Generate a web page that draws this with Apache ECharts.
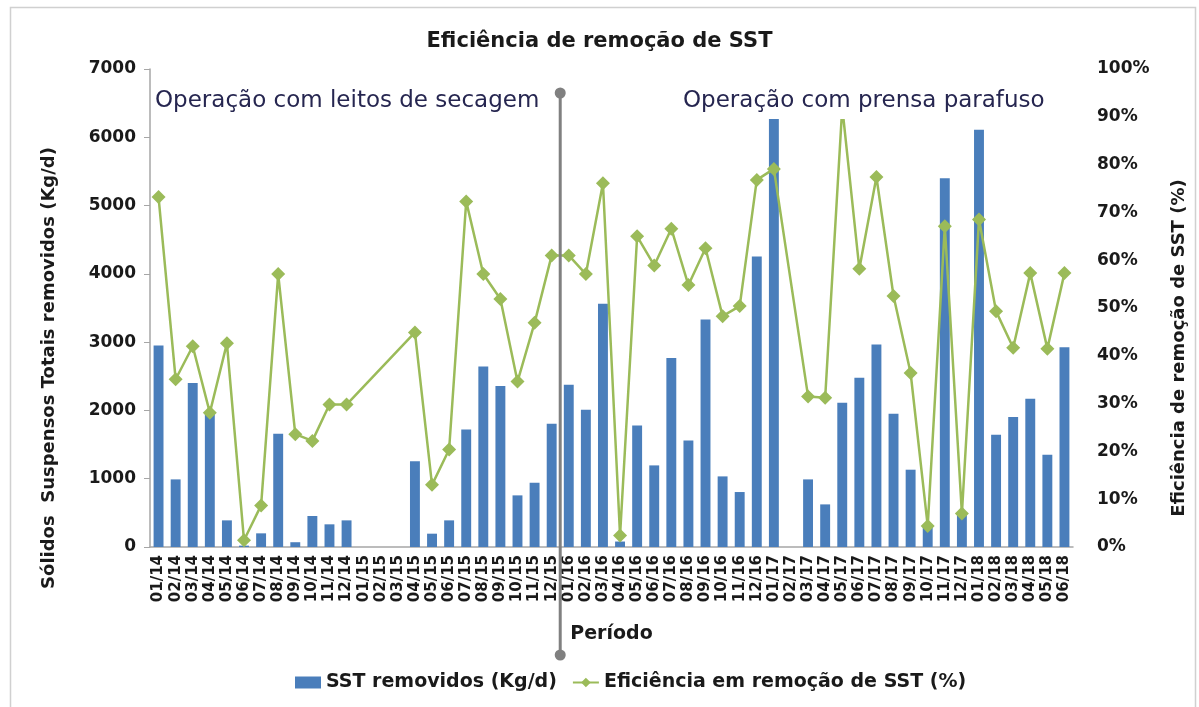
<!DOCTYPE html>
<html>
<head>
<meta charset="utf-8">
<script src="https://cdn.jsdelivr.net/npm/echarts@6/dist/echarts.min.js"></script>
<style>
html,body{margin:0;padding:0;background:#fff;}
#chart{width:1199px;height:707px;}
</style>
</head>
<body>
<div id="chart"></div>
<script>
const categories = [
  '01/14','02/14','03/14','04/14','05/14','06/14','07/14','08/14','09/14','10/14','11/14','12/14',
  '01/15','02/15','03/15','04/15','05/15','06/15','07/15','08/15','09/15','10/15','11/15','12/15',
  '01/16','02/16','03/16','04/16','05/16','06/16','07/16','08/16','09/16','10/16','11/16','12/16',
  '01/17','02/17','03/17','04/17','05/17','06/17','07/17','08/17','09/17','10/17','11/17','12/17',
  '01/18','02/18','03/18','04/18','05/18','06/18'
];
const sstRemovidos = [
  2950, 990, 2400, 1980, 390, 20, 200, 1660, 70, 454, 332, 390,
  null, null, null, 1254, 195, 390, 1722, 2644, 2356, 756, 941, 1805,
  2376, 2010, 3561, 80, 1780, 1195, 2766, 1561, 3332, 1034, 805, 4254,
  6400, null, 990, 624, 2112, 2478, 2966, 1951, 1132, 300, 5400, 500,
  6112, 1644, 1902, 2171, 1351, 2927
];
const eficiencia = [
  73.2, 35.1, 42.0, 28.1, 42.6, 1.4, 8.7, 57.1, 23.6, 22.2, 29.8, 29.8,
  null, null, null, 44.9, 13.0, 20.4, 72.3, 57.1, 51.9, 34.6, 46.9, 61.0,
  61.0, 57.1, 76.1, 2.4, 65.0, 58.9, 66.6, 54.8, 62.5, 48.3, 50.4, 76.8,
  79.1, null, 31.5, 31.2, 92.0, 58.2, 77.4, 52.5, 36.4, 4.4, 67.1, 7.0,
  68.5, 49.3, 41.7, 57.3, 41.5, 57.3
];
const leftTicks = { min: 0, max: 7000, interval: 1000 };
const rightTicks = { min: 0, max: 100, interval: 10 };
const boundaryBefore = '12/15';
const boundaryAfter = '01/16';

const FONT = 'DejaVu Sans';
const chart = echarts.init(document.getElementById('chart'));

const option = {
  animation: false,
  backgroundColor: '#fff',
  title: {
    text: 'Eficiência de remoção de SST',
    left: 'center',
    top: 26,
    textStyle: { fontFamily: FONT, fontWeight: 'bold', fontSize: 21, color: '#1a1a1a' }
  },
  legend: {
    left: 290,
    top: 668,
    itemWidth: 26,
    itemHeight: 12,
    itemGap: 15,
    textStyle: { fontFamily: FONT, fontWeight: 'bold', fontSize: 19, color: '#1a1a1a' },
    data: [
      { name: 'SST removidos (Kg/d)', icon: 'rect' },
      { name: 'Eficiência em remoção de SST (%)' }
    ]
  },
  grid: { left: 150, right: 126, top: 69, bottom: 160, containLabel: false },
  xAxis: {
    type: 'category',
    data: categories,
    name: 'Período',
    nameLocation: 'middle',
    nameGap: 78,
    nameTextStyle: { fontFamily: FONT, fontWeight: 'bold', fontSize: 19, color: '#1a1a1a' },
    axisLine: { lineStyle: { color: '#a6a6a6', width: 1.5 } },
    axisTick: { show: false },
    axisLabel: {
      interval: 0,
      rotate: 90,
      margin: 8,
      fontFamily: FONT,
      fontWeight: 'bold',
      fontSize: 15,
      color: '#1a1a1a'
    }
  },
  yAxis: [
    {
      type: 'value',
      min: leftTicks.min, max: leftTicks.max, interval: leftTicks.interval,
      name: 'Sólidos  Suspensos Totais removidos (Kg/d)',
      nameLocation: 'middle',
      nameRotate: 90,
      nameGap: 92,
      nameTextStyle: { fontFamily: FONT, fontWeight: 'bold', fontSize: 18, color: '#1a1a1a', padding: [0, 120, 0, 0] },
      axisLine: { show: true, lineStyle: { color: '#a6a6a6', width: 1.5 } },
      axisTick: { show: true, length: 6, lineStyle: { color: '#a6a6a6' } },
      splitLine: { show: false },
      axisLabel: { margin: 14, formatter: function (v) { return String(v); }, fontFamily: FONT, fontWeight: 'bold', fontSize: 17, color: '#1a1a1a' }
    },
    {
      type: 'value',
      position: 'right',
      min: rightTicks.min, max: rightTicks.max, interval: rightTicks.interval,
      name: 'Eficiência de remoção de SST (%)',
      nameLocation: 'middle',
      nameRotate: 90,
      nameGap: 97,
      nameTextStyle: { fontFamily: FONT, fontWeight: 'bold', fontSize: 18, color: '#1a1a1a', padding: [0, 80, 0, 0] },
      axisLine: { show: false },
      axisTick: { show: false },
      splitLine: { show: false },
      axisLabel: { margin: 24, formatter: '{value}%', fontFamily: FONT, fontWeight: 'bold', fontSize: 17, color: '#1a1a1a' }
    }
  ],
  series: [
    {
      name: 'SST removidos (Kg/d)',
      type: 'bar',
      yAxisIndex: 0,
      data: sstRemovidos,
      barWidth: '58%',
      itemStyle: { color: '#4a7ebb' },
      z: 2
    },
    {
      name: 'Eficiência em remoção de SST (%)',
      type: 'line',
      yAxisIndex: 1,
      data: eficiencia,
      connectNulls: true,
      symbol: 'diamond',
      symbolSize: 14,
      lineStyle: { color: '#9bbb59', width: 2.5 },
      itemStyle: { color: '#9bbb59' },
      z: 3
    }
  ]
};
chart.setOption(option);

const xa = chart.convertToPixel({ xAxisIndex: 0 }, boundaryBefore);
const xb = chart.convertToPixel({ xAxisIndex: 0 }, boundaryAfter);
const vx = (xa + xb) / 2;

chart.setOption({
  graphic: [
    {
      type: 'rect', z: 0, silent: true,
      shape: { x: 10.5, y: 7.5, width: 1185, height: 712 },
      style: { fill: 'none', stroke: '#d0d0d0', lineWidth: 1.5 }
    },
    {
      type: 'text', z: 100, left: 153, top: 88,
      style: {
        text: 'Operação com leitos de secagem',
        font: '23px "DejaVu Sans"', fill: '#262650',
        backgroundColor: '#fff', padding: [2, 2, 6, 2]
      }
    },
    {
      type: 'text', z: 100, left: 681, top: 88,
      style: {
        text: 'Operação com prensa parafuso',
        font: '23px "DejaVu Sans"', fill: '#262650',
        backgroundColor: '#fff', padding: [2, 2, 6, 2]
      }
    },
    {
      type: 'line', z: 90, silent: true,
      shape: { x1: vx, y1: 93, x2: vx, y2: 655 },
      style: { stroke: '#808080', lineWidth: 3 }
    },
    {
      type: 'circle', z: 91, silent: true,
      shape: { cx: vx, cy: 93, r: 5.5 },
      style: { fill: '#808080' }
    },
    {
      type: 'circle', z: 91, silent: true,
      shape: { cx: vx, cy: 655, r: 5.5 },
      style: { fill: '#808080' }
    }
  ]
});
</script>
</body>
</html>
